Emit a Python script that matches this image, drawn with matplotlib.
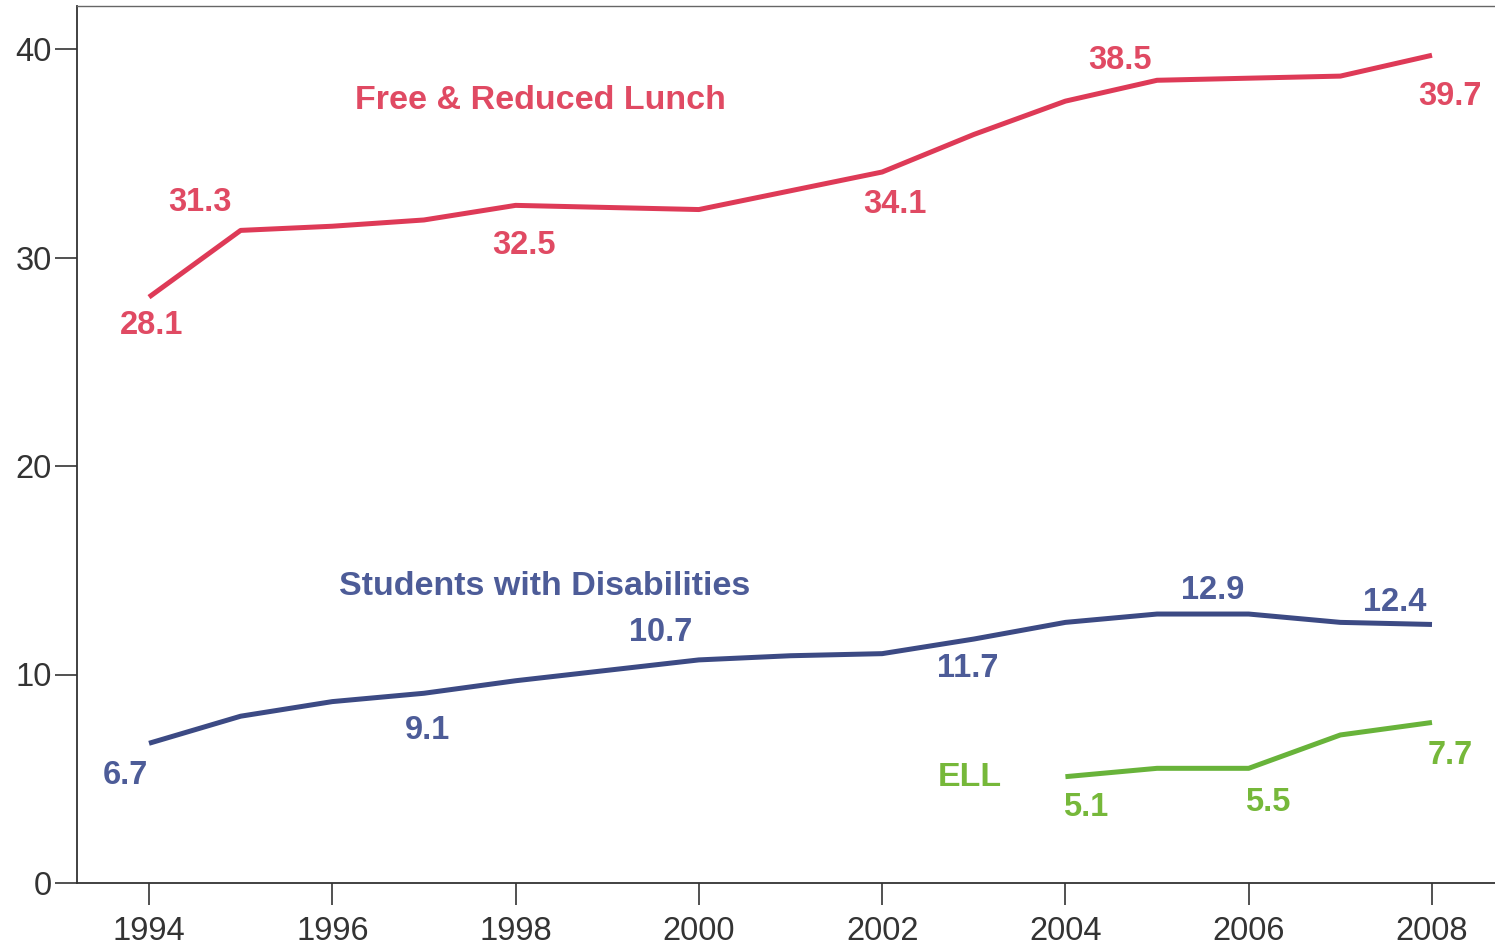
import matplotlib
matplotlib.use("Agg")
import matplotlib.pyplot as plt

plt.rcParams['font.family'] = ['Liberation Sans', 'DejaVu Sans']

# Percent of students by group, 1994-2008
years = list(range(1994, 2009))
free_reduced_lunch = [28.1, 31.3, 31.5, 31.8, 32.5, 32.4, 32.3, 33.2, 34.1,
                      35.9, 37.5, 38.5, 38.6, 38.7, 39.7]
disabilities = [6.7, 8.0, 8.7, 9.1, 9.7, 10.2, 10.7, 10.9, 11.0,
                11.7, 12.5, 12.9, 12.9, 12.5, 12.4]
ell_years = [2004, 2005, 2006, 2007, 2008]
ell = [5.1, 5.5, 5.5, 7.1, 7.7]

x_ticks = [1994, 1996, 1998, 2000, 2002, 2004, 2006, 2008]
y_ticks = [0, 10, 20, 30, 40]

FRL_LINE, FRL_TEXT = '#de3a57', '#e04a63'
SWD_LINE, SWD_TEXT = '#3c4a84', '#4d5c98'
ELL_LINE, ELL_TEXT = '#68b33a', '#76b83a'

fig = plt.figure(figsize=(14.95, 9.51), dpi=100)
ax = fig.add_axes([77 / 1495, 68 / 951, 1 - 77 / 1495, 877 / 951])

ax.plot(years, free_reduced_lunch, color=FRL_LINE, lw=3.6, solid_capstyle='butt')
ax.plot(years, disabilities, color=SWD_LINE, lw=3.6, solid_capstyle='butt')
ax.plot(ell_years, ell, color=ELL_LINE, lw=3.6, solid_capstyle='butt')


def value_labels(xs, ys, picks, color):
    # picks: (year, dx, dy) with offsets in pixels from the data point
    for yr, dx, dy in picks:
        v = ys[xs.index(yr)]
        ax.annotate(f"{v:.1f}", (yr, v), xytext=(dx, dy),
                    textcoords='offset pixels', ha='center', va='center',
                    fontsize=23.5, fontweight='bold', color=color)


value_labels(years, free_reduced_lunch,
             [(1994, 3, -28), (1995, -41, 28), (1998, 8, -40),
              (2002, 13, -32), (2005, -37, 20), (2008, 18, -41)], FRL_TEXT)
value_labels(years, disabilities,
             [(1994, -24, -32), (1997, 4, -37), (2000, -38, 27),
              (2003, -6, -29), (2005, 56, 24), (2008, -37, 22)], SWD_TEXT)
value_labels(ell_years, ell,
             [(2004, 20, -31), (2006, 19, -34), (2008, 18, -33)], ELL_TEXT)

ax.text(1998.27, 37.55, "Free & Reduced Lunch", ha='center', va='center',
        fontsize=24.5, fontweight='bold', color=FRL_TEXT)
ax.text(1998.32, 14.24, "Students with Disabilities", ha='center', va='center',
        fontsize=24.5, fontweight='bold', color=SWD_TEXT)
ax.text(2002.96, 5.08, "ELL", ha='center', va='center',
        fontsize=24.5, fontweight='bold', color=ELL_TEXT)

ax.set_xlim(1994 - 72 / 91.64, 2008 + 63 / 91.64)
ax.set_ylim(0, 877 / 20.85)
ax.set_xticks(x_ticks)
ax.set_yticks(y_ticks)
ax.tick_params(axis='both', direction='out', length=16, width=1.2,
               colors='#333333', labelsize=23.5, labelcolor='#333333')
ax.tick_params(axis='x', pad=8)
ax.tick_params(axis='y', pad=2)

ax.spines['right'].set_visible(False)
for side in ('left', 'bottom'):
    ax.spines[side].set_color('#333333')
    ax.spines[side].set_linewidth(1.3)
ax.spines['top'].set_color('#666666')
ax.spines['top'].set_linewidth(1.0)

fig.savefig('out.png', dpi=100, facecolor='white')
